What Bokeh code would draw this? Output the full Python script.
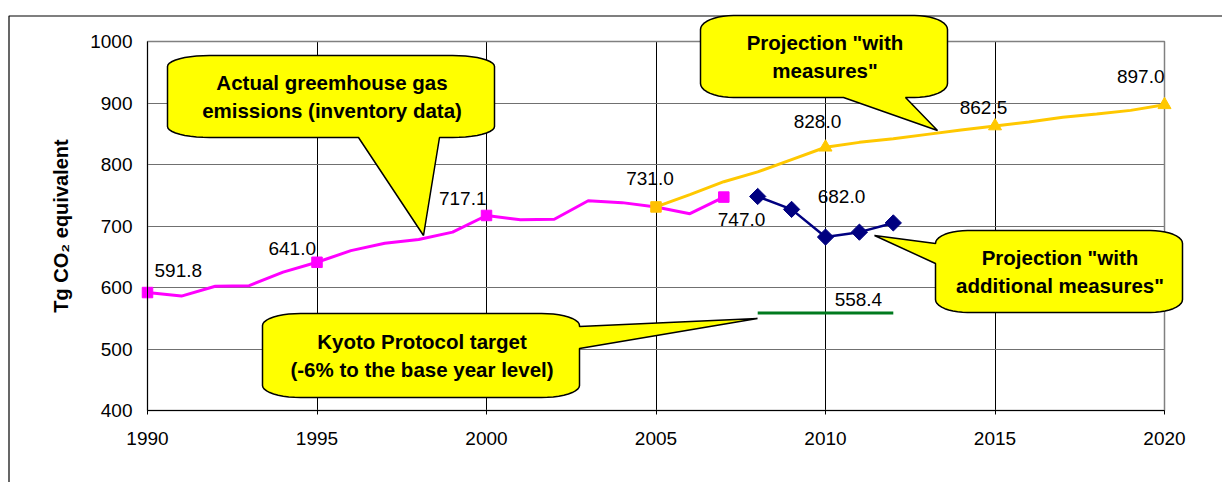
import math
from bokeh.plotting import figure
from bokeh.models import Range1d, FixedTicker, Label, PolyAnnotation, BoxAnnotation
from bokeh.embed import file_html
from bokeh.resources import INLINE

# ---------------- data ----------------
actual_years = list(range(1990, 2008))
actual_values = [591.8, 586.0, 602.0, 603.0, 625.0, 641.0, 660.0, 672.0, 678.0,
                 690.0, 717.1, 710.0, 711.0, 741.0, 738.0, 731.0, 720.0, 747.0]
actual_marker_years = [1990, 1995, 2000, 2007]

wm_years = list(range(2005, 2021))
wm_values = [731.0, 751.0, 772.0, 788.0, 808.0, 828.0, 836.0, 842.0, 849.0,
             856.0, 862.5, 869.0, 877.0, 882.0, 888.0, 897.0]
wm_square_years = [2005]
wm_triangle_years = [2010, 2015, 2020]

wam_years = [2008, 2009, 2010, 2011, 2012]
wam_values = [748.0, 727.0, 682.0, 690.0, 705.0]

kyoto_years = [2008, 2009, 2010, 2011, 2012]
kyoto_values = [558.4, 558.4, 558.4, 558.4, 558.4]

x_ticks = [1990, 1995, 2000, 2005, 2010, 2015, 2020]
y_ticks = [400, 500, 600, 700, 800, 900, 1000]

y_title = "Tg CO\u2082 equivalent"

callout_texts = [
    ["Actual greemhouse gas", "emissions (inventory data)"],
    ["Kyoto Protocol target", "(-6% to the base year level)"],
    ["Projection \"with", "measures\""],
    ["Projection \"with", "additional measures\""],
]

# ---------------- layout ----------------
W, H = 1222, 482
FL, FT, FW, FH = 147, 41, 1017, 369  # plot area in page pixels
X0, X1, Y0, Y1 = 1990, 2020, 400, 1000

FONT = "Liberation Sans"
PINK = "#FF00FF"
GOLD = "#FFC800"
NAVY = "#000080"
GREEN = "#007A1E"


def dx(px):
    return X0 + (px - FL) * (X1 - X0) / FW


def dy(py):
    return Y1 - (py - FT) * (Y1 - Y0) / FH


def lookup(years, values, y):
    return values[years.index(y)]


p = figure(width=W, height=H, x_range=Range1d(dx(0), dx(W)), y_range=Range1d(dy(H), dy(0)),
           output_backend="svg", toolbar_location=None,
           min_border_left=0, min_border_top=0, min_border_right=0, min_border_bottom=0)
p.background_fill_color = "white"
p.border_fill_color = "white"
p.outline_line_color = None

# axes placed at the plot-area edges
p.xaxis.fixed_location = Y0
p.yaxis.fixed_location = X0
p.xaxis.bounds = (X0, X1)
p.yaxis.bounds = (Y0, Y1)
p.xaxis.ticker = FixedTicker(ticks=x_ticks)
p.yaxis.ticker = FixedTicker(ticks=y_ticks)
for ax in (p.xaxis, p.yaxis):
    ax.axis_line_color = "black"
    ax.axis_line_width = 1
    ax.major_label_text_font = FONT
    ax.major_label_text_font_size = "19px"
    ax.major_label_text_color = "black"
    ax.minor_tick_line_color = None
    ax.major_tick_in = 0
p.xaxis.major_tick_out = 4
p.xaxis.major_tick_line_color = "black"
p.xaxis.major_label_standoff = 17
p.yaxis.major_tick_out = 0
p.yaxis.major_tick_line_color = None
p.yaxis.major_label_standoff = 15
p.yaxis.axis_label = y_title
p.yaxis.axis_label_text_font = FONT
p.yaxis.axis_label_text_font_size = "20px"
p.yaxis.axis_label_text_font_style = "bold"
p.yaxis.axis_label_text_color = "black"
p.yaxis.axis_label_standoff = 15

# grid limited to the plot area
p.xgrid.ticker = FixedTicker(ticks=x_ticks)
p.ygrid.ticker = FixedTicker(ticks=y_ticks)
p.xgrid.grid_line_color = "black"
p.xgrid.grid_line_width = 1
p.ygrid.grid_line_color = "#707070"
p.ygrid.grid_line_width = 1.2
try:
    p.xgrid.bounds = (X0, X1)
    p.ygrid.bounds = (Y0, Y1)
    p.xgrid.cross_bounds = (Y0, Y1)
    p.ygrid.cross_bounds = (X0, X1)
except Exception:
    p.xgrid.visible = False
    p.ygrid.visible = False
    p.segment(x0=x_ticks, y0=[Y0] * len(x_ticks), x1=x_ticks, y1=[Y1] * len(x_ticks),
              line_color="black", line_width=1)
    p.segment(x0=[X0] * len(y_ticks), y0=y_ticks, x1=[X1] * len(y_ticks), y1=y_ticks,
              line_color="#707070", line_width=1.2)

# plot-area border (grey) and outer chart frame
p.add_layout(BoxAnnotation(left=X0, right=X1, bottom=Y0, top=Y1, fill_alpha=0,
                           line_color="#808080", line_alpha=1, line_width=1.5,
                           level="underlay"))
p.add_layout(PolyAnnotation(xs=[dx(8.5), dx(1400), dx(1400), dx(8.5)],
                            ys=[dy(15.5), dy(15.5), dy(700), dy(700)],
                            fill_alpha=0, line_color="black", line_alpha=1,
                            line_width=1.2, level="underlay"))

# series
p.line(actual_years, actual_values, line_color=PINK, line_width=3)
p.scatter(actual_marker_years,
          [lookup(actual_years, actual_values, y) for y in actual_marker_years],
          marker="square", size=10.5, fill_color=PINK, line_color=PINK)

p.line(wm_years, wm_values, line_color=GOLD, line_width=3)
p.scatter(wm_square_years, [lookup(wm_years, wm_values, y) for y in wm_square_years],
          marker="square", size=10.5, fill_color="#FFC000", line_color="#FFC000")
p.scatter(wm_triangle_years, [lookup(wm_years, wm_values, y) for y in wm_triangle_years],
          marker="triangle", size=13, fill_color=GOLD, line_color=GOLD)

p.line(wam_years, wam_values, line_color=NAVY, line_width=2.5)
p.scatter(wam_years, wam_values, marker="square", angle=math.pi / 4, size=11.5,
          fill_color=NAVY, line_color=NAVY)

p.line(kyoto_years, kyoto_values, line_color=GREEN, line_width=3)


# callouts
def callout(box, rx, ry, side, a, b, tip, n=10):
    x0, y0, x1, y1 = box
    pts = []

    def arc(cx, cy, t0, t1):
        for i in range(n + 1):
            t = t0 + (t1 - t0) * i / n
            pts.append((cx + rx * math.cos(t), cy + ry * math.sin(t)))

    arc(x1 - rx, y0 + ry, -math.pi / 2, 0)
    if side == "right":
        pts.extend([(x1, a), tip, (x1, b)])
    arc(x1 - rx, y1 - ry, 0, math.pi / 2)
    if side == "bottom":
        pts.extend([(b, y1), tip, (a, y1)])
    arc(x0 + rx, y1 - ry, math.pi / 2, math.pi)
    if side == "left":
        pts.extend([(x0, b), tip, (x0, a)])
    arc(x0 + rx, y0 + ry, math.pi, 1.5 * math.pi)
    xs = [dx(q[0]) for q in pts]
    ys = [dy(q[1]) for q in pts]
    return PolyAnnotation(xs=xs, ys=ys, fill_color="#FFFF00", fill_alpha=1,
                          line_color="black", line_alpha=1, line_width=1.5)


callouts = [
    dict(box=(167, 55, 494, 137), rx=42, ry=11, side="bottom", a=358, b=439, tip=(423, 235)),
    dict(box=(262, 313, 579, 397), rx=38, ry=12, side="right", a=326, b=348, tip=(757, 318)),
    dict(box=(700, 15, 947, 97), rx=33, ry=14, side="bottom", a=843, b=905, tip=(937, 130)),
    dict(box=(935, 230, 1182, 312), rx=32, ry=13, side="left", a=243, b=263, tip=(874, 235)),
]
for c, lines in zip(callouts, callout_texts):
    p.add_layout(callout(c["box"], c["rx"], c["ry"], c["side"], c["a"], c["b"], c["tip"]))
    bx0, by0, bx1, by1 = c["box"]
    cx = (bx0 + bx1) / 2 + 1
    cy = (by0 + by1) / 2
    for i, t in enumerate(lines):
        ly = cy - 14 + 28 * i
        p.add_layout(Label(x=dx(cx), y=dy(ly), text=t, text_font=FONT,
                           text_font_size="20.5px", text_font_style="bold",
                           text_color="black", text_align="center",
                           text_baseline="middle"))

# data labels: (series years, series values, year, align, x_offset, y_offset)
label_specs = [
    (actual_years, actual_values, 1990, "left", 7, 22.5),
    (actual_years, actual_values, 1995, "right", -1, 14),
    (actual_years, actual_values, 2000, "right", 0, 16.5),
    (actual_years, actual_values, 2005, "center", -6, 28),
    (actual_years, actual_values, 2007, "left", -6, -22),
    (wm_years, wm_values, 2010, "center", -8, 26),
    (wam_years, wam_values, 2010, "center", 16, 40.5),
    (wm_years, wm_values, 2015, "center", -11.5, 18.5),
    (wm_years, wm_values, 2020, "right", 0, 28.6),
    (kyoto_years, kyoto_values, 2011, "center", -1, 13.6),
]
for yrs, vals, yr, align, xo, yo in label_specs:
    v = lookup(yrs, vals, yr)
    p.add_layout(Label(x=yr, y=v, text=f"{v:.1f}", x_offset=xo, y_offset=yo,
                       text_font=FONT, text_font_size="19px", text_color="black",
                       text_align=align, text_baseline="middle"))

open("out.html", "w").write(file_html(p, INLINE))
